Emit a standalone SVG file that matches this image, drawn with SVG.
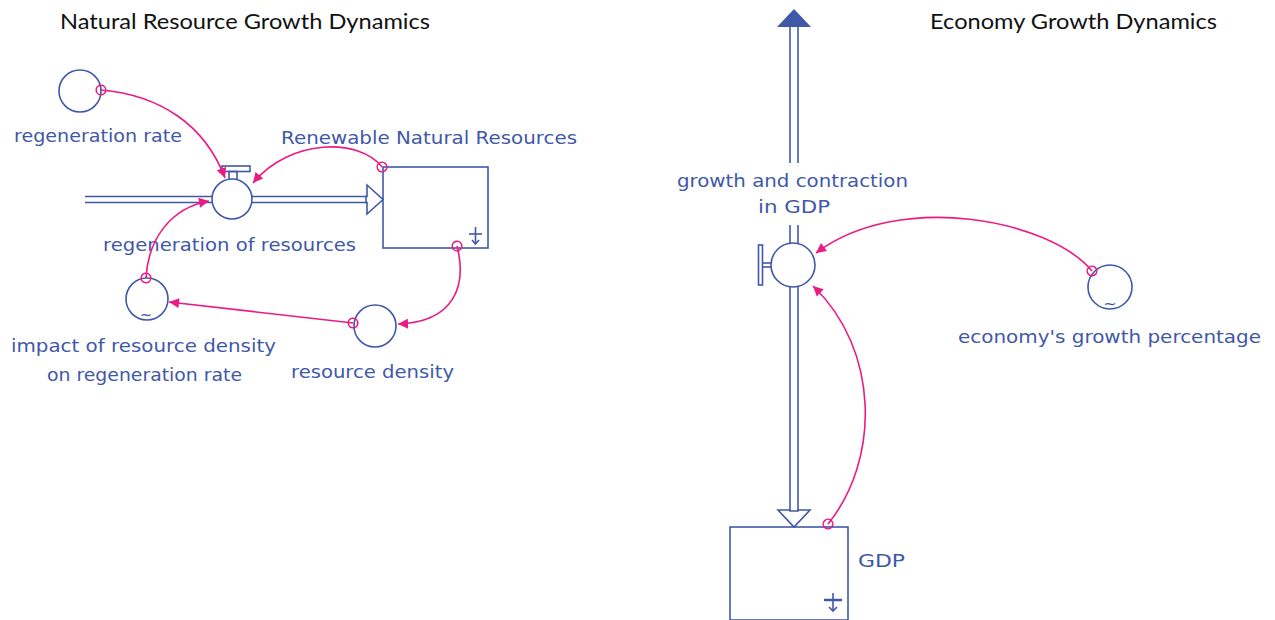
<svg xmlns="http://www.w3.org/2000/svg" width="1275" height="620" viewBox="0 0 1275 620">
<defs>
<style>
.t{font-family:"Lato","Open Sans",sans-serif;font-size:21px;fill:#111}
.l{font-family:"DejaVu Sans","Liberation Sans",sans-serif;font-size:17px;fill:#4058a8}
.b{fill:none;stroke:#4058a8;stroke-width:1.6}
.bw{fill:#fff;stroke:#4058a8;stroke-width:1.6}
.c{fill:none;stroke:#ec1b83;stroke-width:1.6;marker-start:url(#o);marker-end:url(#a)}
</style>
<marker id="a" viewBox="0 0 10 10" refX="10" refY="5" markerWidth="11" markerHeight="10" orient="auto" markerUnits="userSpaceOnUse">
<path d="M0,0 L10,5 L0,10 z" fill="#ec1b83"/>
</marker>
<marker id="o" viewBox="0 0 12 12" refX="6" refY="6" markerWidth="12" markerHeight="12" orient="auto" markerUnits="userSpaceOnUse">
<circle cx="6" cy="6" r="4.8" fill="none" stroke="#ec1b83" stroke-width="1.6"/>
</marker>
</defs>
<rect width="1275" height="620" fill="#fff"/>
<text class="t" x="60" y="29" textLength="370" lengthAdjust="spacingAndGlyphs">Natural Resource Growth Dynamics</text>
<text class="t" x="930" y="29" textLength="287" lengthAdjust="spacingAndGlyphs">Economy Growth Dynamics</text>

<g id="flow-left">
<line class="b" x1="85" y1="196.5" x2="212" y2="196.5"/>
<line class="b" x1="85" y1="202.5" x2="212" y2="202.5"/>
<line class="b" x1="252" y1="196.5" x2="368" y2="196.5"/>
<line class="b" x1="252" y1="202.5" x2="368" y2="202.5"/>
<polygon class="bw" points="367,185 383,199.5 367,214 367,202.5 366,202.5 366,196.5 367,196.5"/>
</g>

<g id="regeneration-rate">
<circle class="b" cx="80" cy="91" r="21"/>
<text class="l" x="14" y="142" textLength="168" lengthAdjust="spacingAndGlyphs">regeneration rate</text>
</g>

<g id="regeneration-of-resources">
<rect class="b" x="222" y="166" width="28" height="5.5"/>
<rect class="b" x="229" y="171.5" width="8" height="8"/>
<circle class="bw" cx="232" cy="199" r="20"/>
<text class="l" x="103" y="251" textLength="253" lengthAdjust="spacingAndGlyphs">regeneration of resources</text>
</g>

<g id="renewable-natural-resources">
<rect class="b" x="383" y="167" width="105" height="81"/>
<line class="b" x1="475.5" y1="227" x2="475.5" y2="244"/>
<line class="b" x1="469" y1="234" x2="482" y2="234"/>
<polyline class="b" points="472,240 475.5,244 479,240"/>
<text class="l" x="281" y="144" textLength="296" lengthAdjust="spacingAndGlyphs">Renewable Natural Resources</text>
</g>

<g id="impact-of-resource-density">
<circle class="b" cx="147" cy="299" r="21"/>
<text class="l" x="146" y="320" text-anchor="middle" style="font-size:15px">~</text>
<text class="l" x="11" y="352" textLength="265" lengthAdjust="spacingAndGlyphs">impact of resource density</text>
<text class="l" x="47" y="381" textLength="195" lengthAdjust="spacingAndGlyphs">on regeneration rate</text>
</g>

<g id="resource-density">
<circle class="b" cx="375" cy="326" r="21"/>
<text class="l" x="291" y="378" textLength="163" lengthAdjust="spacingAndGlyphs">resource density</text>
</g>

<g id="flow-right">
<line class="b" x1="790" y1="26" x2="790" y2="163"/>
<line class="b" x1="798" y1="26" x2="798" y2="163"/>
<polygon points="777,27 811,27 794,9" fill="#4058a8"/>
<line class="b" x1="790" y1="225" x2="790" y2="244"/>
<line class="b" x1="798" y1="225" x2="798" y2="244"/>
<line class="b" x1="790" y1="286" x2="790" y2="511"/>
<line class="b" x1="798" y1="286" x2="798" y2="511"/>
<polygon class="bw" points="778,510 790,510 790,511 798,511 798,510 810,510 794,527"/>
</g>

<g id="growth-and-contraction">
<rect class="b" x="758.5" y="245" width="4" height="40"/>
<line class="b" x1="762.5" y1="263" x2="771" y2="263"/>
<line class="b" x1="762.5" y1="267" x2="771" y2="267"/>
<circle class="bw" cx="793" cy="265" r="22"/>
<text class="l" x="792.5" y="187" text-anchor="middle" textLength="231" lengthAdjust="spacingAndGlyphs">growth and contraction</text>
<text class="l" x="794" y="213" text-anchor="middle" textLength="72" lengthAdjust="spacingAndGlyphs">in GDP</text>
</g>

<g id="gdp">
<rect class="b" x="730" y="527" width="118" height="93"/>
<line class="b" x1="833" y1="593" x2="833" y2="611"/>
<line x1="824" y1="600" x2="842" y2="600" stroke="#4058a8" stroke-width="2.5"/>
<polyline class="b" points="829,607 833,611 837,607"/>
<text class="l" x="858" y="567" textLength="47" lengthAdjust="spacingAndGlyphs">GDP</text>
</g>

<g id="economys-growth-percentage">
<circle class="b" cx="1110" cy="287" r="22"/>
<text class="l" x="1110" y="309" text-anchor="middle" style="font-size:16px">~</text>
<text class="l" x="958" y="343" textLength="303" lengthAdjust="spacingAndGlyphs">economy's growth percentage</text>
</g>

<g id="connectors">
<path class="c" d="M101,90 C160,95 205,125 225,178"/>
<path class="c" d="M382,167 C360,138 290,138 253,183"/>
<path class="c" d="M146,278 C148,240 170,208 209,201"/>
<path class="c" d="M353,323 L169,302"/>
<path class="c" d="M457,246 C467,285 455,322 398,324"/>
<path class="c" d="M828,524 C880,460 880,350 813,286"/>
<path class="c" d="M1092,271 C1050,220 900,190 816,253"/>
</g>
</svg>
